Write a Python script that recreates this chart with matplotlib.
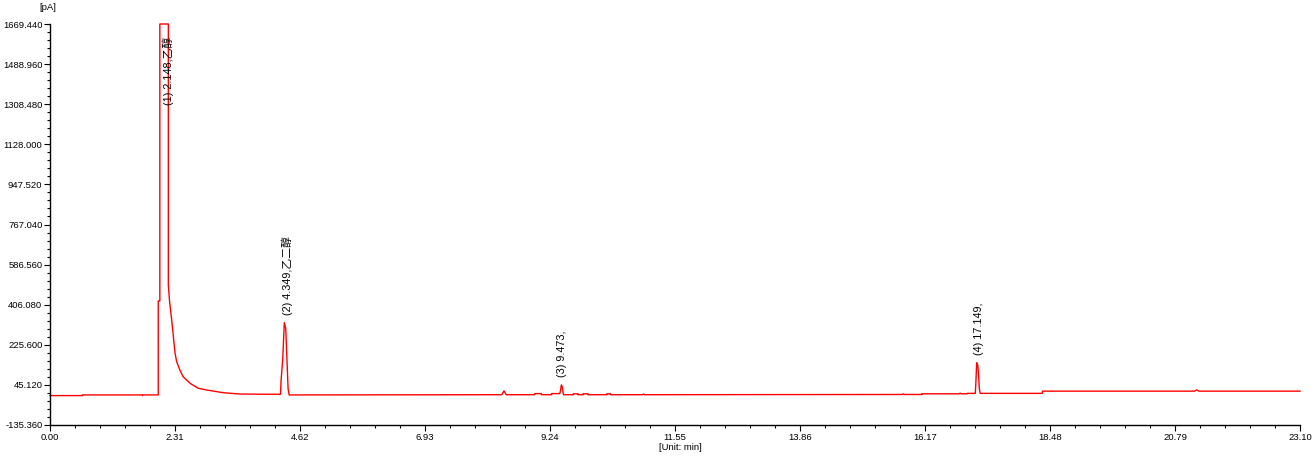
import matplotlib
matplotlib.use("Agg")
import matplotlib.pyplot as plt
from matplotlib.ticker import FixedLocator
import numpy as np

plt.rcParams['font.family'] = ['Liberation Sans', 'Noto Sans CJK SC', 'DejaVu Sans']

# chromatogram trace (time in min, signal in pA)
times = [0.00, 0.60, 0.60, 1.70, 1.71, 1.72, 2.00, 2.00, 2.03, 2.03, 2.187, 2.187,
         2.21, 2.249, 2.28, 2.31, 2.34, 2.40, 2.46, 2.59, 2.74, 2.90, 3.20, 3.51, 4.00,
         4.26, 4.27, 4.30, 4.33, 4.356, 4.385, 4.40, 4.42,
         8.35, 8.37, 8.39, 8.41, 8.43, 8.96, 8.96, 9.08, 9.08, 9.27, 9.27, 9.42,
         9.435, 9.45, 9.465, 9.48, 9.49, 9.67, 9.67, 9.76, 9.76, 9.85, 9.85, 9.94, 9.94,
         10.29, 10.29, 10.36, 10.36, 10.95, 10.97, 10.99, 15.75, 15.77, 15.79,
         16.11, 16.11, 16.80, 16.82, 16.84, 16.95, 16.95, 17.10, 17.11, 17.125, 17.145,
         17.16, 17.175, 17.19, 18.34, 18.34, 21.15, 21.19, 21.23, 23.10]
signal = [-3, -3, 0, 0, -3, 0, 0, 423, 423, 1669.44, 1669.44, 495,
          420, 337, 262, 189, 150, 112, 82, 52, 30, 22, 10, 4, 3,
          3, 64, 157, 325, 300, 120, 28, 0,
          1, 10, 18, 10, 1, 1, 6, 6, 1, 1, 6, 6,
          20, 45, 38, 12, 1, 1, 5, 5, 1, 1, 5, 5, 1,
          1, 5, 5, 1, 1, 4, 1, 2, 5, 2,
          2, 5, 5, 8, 5, 5, 7, 7, 54, 145, 135,
          90, 25, 7, 7, 17, 17, 23, 17, 17]

peak_times = [2.18, 4.38, 9.46, 17.17]
peak_label_y = [1305, 360, 81, 180]
peak_labels = ["(1) 2.148,乙醇", "(2) 4.349,乙二醇", "(3) 9.473,", "(4) 17.149,"]

x_ticks = [0.00, 2.31, 4.62, 6.93, 9.24, 11.55, 13.86, 16.17, 18.48, 20.79, 23.10]
y_ticks = [-135.36, 45.12, 225.60, 406.08, 586.56, 767.04, 947.52, 1128.00,
           1308.48, 1488.96, 1669.44]

fig = plt.figure(figsize=(13.16, 4.59), dpi=100)
ax = fig.add_axes([50/1316, 34/459, 1250/1316, 401/459])

ax.plot(times, signal, color='#ff0000', lw=1.0, clip_on=False)

ax.set_xlim(0, 23.10)
ax.set_ylim(-135.36, 1669.44)

def minors(major):
    out = []
    for a, b in zip(major[:-1], major[1:]):
        out.extend(np.linspace(a, b, 6)[1:-1])
    return out

ax.xaxis.set_major_locator(FixedLocator(x_ticks))
ax.yaxis.set_major_locator(FixedLocator(y_ticks))
ax.xaxis.set_minor_locator(FixedLocator(minors(x_ticks)))
ax.yaxis.set_minor_locator(FixedLocator(minors(y_ticks)))
ax.set_xticklabels([f"{v:.2f}" for v in x_ticks])
ax.set_yticklabels([f"{v:.3f}" for v in y_ticks])

for s in ['top', 'right']:
    ax.spines[s].set_visible(False)
for s in ['left', 'bottom']:
    ax.spines[s].set_linewidth(1.0)
    ax.spines[s].set_color('black')

ax.tick_params(axis='both', which='major', length=4.5, width=0.8, labelsize=6.8,
               pad=1, direction='out', colors='black')
ax.tick_params(axis='both', which='minor', length=2.3, width=0.8, direction='out')

for t, yv, lab in zip(peak_times, peak_label_y, peak_labels):
    ax.text(t, yv, lab, rotation=90, ha='center', va='bottom', fontsize=7.8,
            color='black')

fig.text(48/1316, 1 - 8/459, "[pA]", ha='center', va='center', fontsize=6.8)
fig.text(680/1316, 1 - 447/459, "[Unit: min]", ha='center', va='center', fontsize=6.8)

fig.savefig("out.png", dpi=100)
